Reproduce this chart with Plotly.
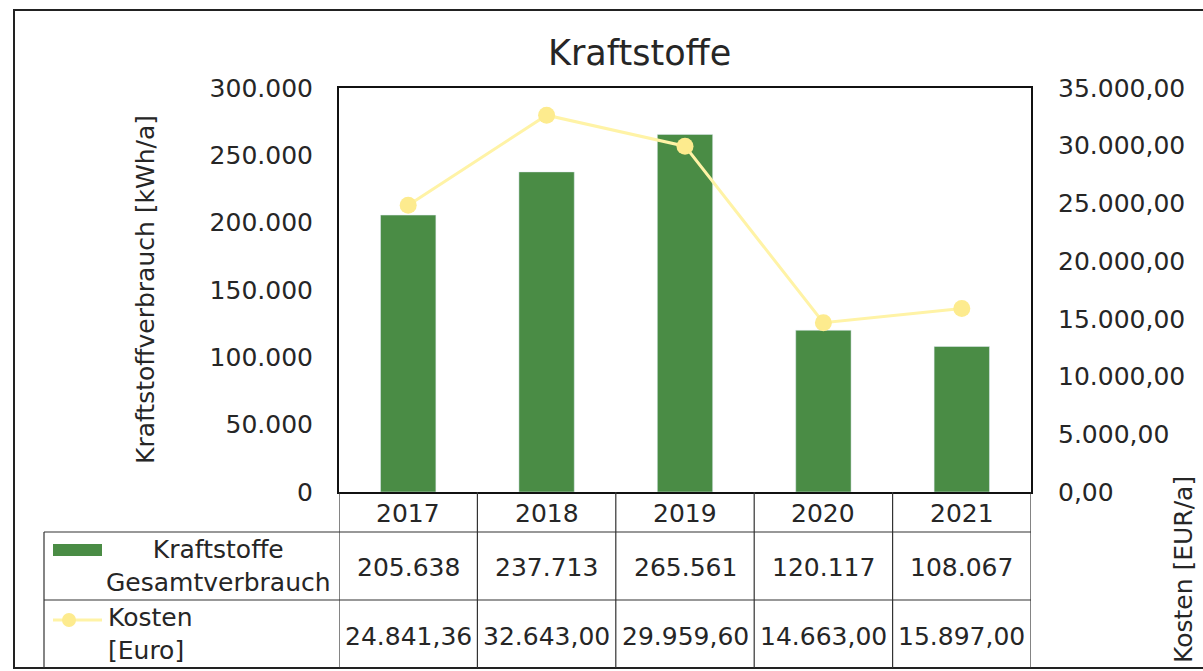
import plotly.graph_objects as go

years = ["2017", "2018", "2019", "2020", "2021"]
verbrauch = [205638, 237713, 265561, 120117, 108067]
kosten = [24841.36, 32643.00, 29959.60, 14663.00, 15897.00]

left_ticks = [0, 50000, 100000, 150000, 200000, 250000, 300000]
right_ticks = [0, 5000, 10000, 15000, 20000, 25000, 30000, 35000]

FONT = "DejaVu Sans"
TXT = "#262626"
GREEN = "#4a8c45"
YELLOW = "#fff3a6"
YMARK = "#fdeb8e"


def de_int(v):
    return f"{v:,.0f}".replace(",", ".")


def de_2f(v):
    s = f"{v:,.2f}"
    return s.replace(",", "X").replace(".", ",").replace("X", ".")


L, R, T, B = 339, 172, 88, 179
W, H = 1203, 671
PW = W - L - R
PH = H - T - B


def px(x):
    return (x - L) / PW


def py(y):
    return (H - B - y) / PH


fig = go.Figure()
fig.add_bar(x=years, y=verbrauch, marker_color=GREEN, width=0.4, name="Kraftstoffe Gesamtverbrauch")
fig.add_scatter(x=years, y=kosten, yaxis="y2", mode="lines+markers",
                line=dict(color=YELLOW, width=3),
                marker=dict(color=YMARK, size=17), name="Kosten [Euro]")

shapes = []
annotations = []
line_c = "#333333"
# outer border
shapes.append(dict(type="rect", xref="paper", yref="paper", x0=px(14), x1=px(1212),
                   y0=py(668), y1=py(10), line=dict(color="#222", width=2)))
# table vertical lines
for k in range(len(years) + 1):
    shapes.append(dict(type="line", xref="x", yref="paper", x0=k - 0.5, x1=k - 0.5,
                       y0=py(668), y1=py(492), line=dict(color=line_c, width=1.2)))
# table horizontal lines
for yy in (532, 600):
    shapes.append(dict(type="line", xref="paper", yref="paper", x0=px(44), x1=1,
                       y0=py(yy), y1=py(yy), line=dict(color=line_c, width=1.2)))
# left border of legend column
shapes.append(dict(type="line", xref="paper", yref="paper", x0=px(44), x1=px(44),
                   y0=py(668), y1=py(532), line=dict(color=line_c, width=1.2)))
# legend swatch (bar)
shapes.append(dict(type="rect", xref="paper", yref="paper", x0=px(53), x1=px(102),
                   y0=py(556), y1=py(544), line=dict(width=0), fillcolor=GREEN))
# legend swatch (line + marker)
shapes.append(dict(type="line", xref="paper", yref="paper", x0=px(53), x1=px(102),
                   y0=py(620), y1=py(620), line=dict(color=YELLOW, width=3)))
shapes.append(dict(type="circle", xref="paper", yref="paper", x0=px(62), x1=px(76),
                   y0=py(627), y1=py(613), line=dict(width=0), fillcolor=YMARK))

FS = 25
f24 = dict(family=FONT, size=FS, color=TXT)


def ann(x, y, text, xref="paper", font=f24, **kw):
    d = dict(x=x, y=y, xref=xref, yref="paper", text=text, showarrow=False, font=font,
             xanchor="center", yanchor="middle")
    d.update(kw)
    annotations.append(d)


for i, yr in enumerate(years):
    ann(i, py(513), yr, xref="x")
    ann(i, py(567), de_int(verbrauch[i]), xref="x")
    ann(i, py(636), de_2f(kosten[i]), xref="x")

ann(px(218), py(566), "Kraftstoffe<br>Gesamtverbrauch", align="center")
ann(px(106), py(634), "Kosten<br>[Euro]", align="left", xanchor="left")
ann(px(639), py(53), "Kraftstoffe", font=dict(family=FONT, size=35, color=TXT))
ann(px(145), py(290), "Kraftstoffverbrauch [kWh/a]", textangle=-90,
    font=dict(family=FONT, size=25, color=TXT))
ann(px(1183), py(570), "Kosten [EUR/a]", textangle=-90,
    font=dict(family=FONT, size=25, color=TXT))

fig.update_layout(
    width=W, height=H,
    margin=dict(l=L, r=R, t=T, b=B, pad=0),
    paper_bgcolor="white", plot_bgcolor="white",
    separators=",.",
    showlegend=False,
    font=dict(family=FONT, color=TXT),
    xaxis=dict(type="category", range=[-0.5, len(years) - 0.5], showticklabels=False,
               showgrid=False, showline=True, linecolor="#111", linewidth=2, mirror=True,
               ticks="", zeroline=False),
    yaxis=dict(range=[0, 300000], tickvals=left_ticks, tickformat=",d",
               showgrid=False, showline=True, linecolor="#111", linewidth=2, mirror=True,
               ticks="", zeroline=False, tickfont=dict(family=FONT, size=FS, color=TXT),
               ticklabelstandoff=19),
    yaxis2=dict(range=[0, 35000], tickvals=right_ticks, tickformat=",.2f",
                overlaying="y", side="right", showgrid=False, showline=False, ticks="",
                zeroline=False, tickfont=dict(family=FONT, size=FS, color=TXT),
                ticklabelstandoff=26),
    shapes=shapes,
    annotations=annotations,
)

fig.write_html("out.html")
